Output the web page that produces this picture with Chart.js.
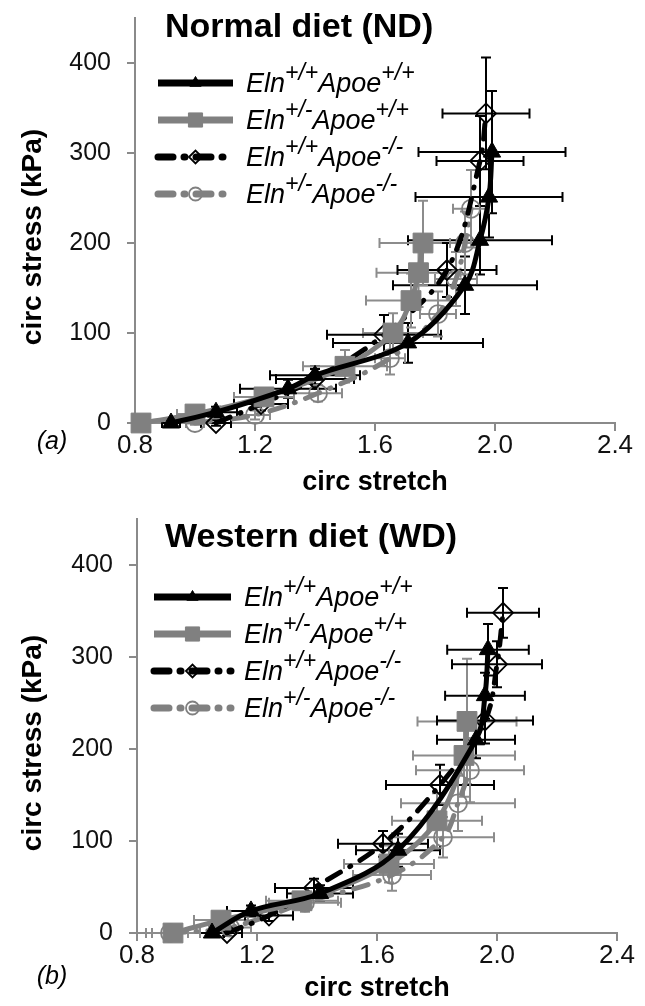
<!DOCTYPE html>
<html>
<head>
<meta charset="utf-8">
<script src="https://cdn.jsdelivr.net/npm/chart.js@4.4.1/dist/chart.umd.min.js"></script>
<style>
  html, body { margin: 0; padding: 0; background: #fff; }
  .panel { position: relative; width: 645px; }
  canvas { display: block; }
</style>
</head>
<body>
<div class="panel"><canvas id="ndChart" width="645" height="500"></canvas></div>
<div class="panel"><canvas id="wdChart" width="645" height="506"></canvas></div>
<script>
// Legend labels: [gene, superscript, gene, superscript]
const LEGEND_LABELS = [
    ['Eln', '+/+', 'Apoe', '+/+'],
    ['Eln', '+/-', 'Apoe', '+/+'],
    ['Eln', '+/+', 'Apoe', '-/-'],
    ['Eln', '+/-', 'Apoe', '-/-']
];
const X_TICKS = [0.8, 1.2, 1.6, 2.0, 2.4];
const Y_TICKS = [0, 100, 200, 300, 400];

// ---- Normal diet (ND) ----
const ND_WT_X    = [0.92, 1.07, 1.31, 1.40, 1.71, 1.90, 1.95, 1.98, 1.99];
const ND_WT_Y    = [0, 12, 38, 53, 89, 153, 203, 251, 301];
const ND_WT_XERR = [0.03, 0.07, 0.16, 0.15, 0.25, 0.24, 0.24, 0.245, 0.245];
const ND_WT_YERR = [3, 6, 10, 10, 22, 32, 38, 45, 68];

const ND_ELN_X    = [0.82, 1.00, 1.23, 1.50, 1.66, 1.72, 1.745, 1.76];
const ND_ELN_Y    = [0, 10, 29, 63, 100, 136, 167, 200];
const ND_ELN_XERR = [0.02, 0.06, 0.10, 0.14, 0.10, 0.15, 0.14, 0.145];
const ND_ELN_YERR = [2, 5, 9, 18, 22, 30, 38, 47];

const ND_APOE_X    = [1.07, 1.22, 1.40, 1.63, 1.84, 1.95, 1.97];
const ND_APOE_Y    = [0, 21, 49, 98, 170, 291, 344];
const ND_APOE_XERR = [0.05, 0.09, 0.13, 0.19, 0.165, 0.145, 0.145];
const ND_APOE_YERR = [3, 7, 11, 22, 30, 50, 62];

const ND_DKO_X    = [1.00, 1.20, 1.41, 1.65, 1.81, 1.87, 1.90, 1.92];
const ND_DKO_Y    = [0, 9, 33, 72, 121, 160, 200, 238];
const ND_DKO_XERR = [0.03, 0.05, 0.08, 0.05, 0.06, 0.07, 0.05, 0.06];
const ND_DKO_YERR = [2, 5, 9, 18, 25, 30, 35, 43];

// ---- Western diet (WD) ----
const WD_WT_X    = [1.05, 1.18, 1.41, 1.67, 1.93, 1.96, 1.97];
const WD_WT_Y    = [0, 24, 43, 90, 210, 258, 308];
const WD_WT_XERR = [0.04, 0.08, 0.11, 0.14, 0.13, 0.133, 0.136];
const WD_WT_YERR = [3, 6, 9, 18, 20, 25, 28];

const WD_ELN_X    = [0.92, 1.08, 1.35, 1.64, 1.80, 1.89, 1.90];
const WD_ELN_Y    = [0, 14, 35, 75, 122, 193, 230];
const WD_ELN_XERR = [0.09, 0.09, 0.12, 0.15, 0.15, 0.17, 0.165];
const WD_ELN_YERR = [2, 5, 9, 20, 30, 45, 68];

const WD_APOE_X    = [1.10, 1.24, 1.39, 1.62, 1.81, 1.96, 2.00, 2.02];
const WD_APOE_Y    = [0, 19, 49, 97, 161, 231, 292, 348];
const WD_APOE_XERR = [0.05, 0.08, 0.13, 0.15, 0.18, 0.16, 0.15, 0.12];
const WD_APOE_YERR = [3, 6, 10, 14, 22, 25, 25, 27];

const WD_DKO_X    = [0.91, 1.11, 1.36, 1.65, 1.82, 1.87, 1.91];
const WD_DKO_Y    = [0, 6, 33, 63, 104, 141, 177];
const WD_DKO_XERR = [0.06, 0.07, 0.12, 0.13, 0.17, 0.19, 0.18];
const WD_DKO_YERR = [2, 5, 10, 17, 22, 30, 35];

const FONT = '"Liberation Sans", Arial, sans-serif';
const GRAY = '#808080';
const AXIS = '#8a8a8a';

function points(xs, ys) {
    return xs.map((x, i) => ({ x: x, y: ys[i] }));
}

// look of the four groups (same in both panels)
function makeDatasets(wt, eln, apoe, dko) {
    return [
        {
            data: points(wt[0], wt[1]), xErr: wt[2], yErr: wt[3], errColor: '#000',
            borderColor: '#000', borderWidth: 5, pointStyle: 'triangle', pointRadius: 10,
            pointBackgroundColor: '#000', pointBorderColor: '#000', pointBorderWidth: 1
        },
        {
            data: points(eln[0], eln[1]), xErr: eln[2], yErr: eln[3], errColor: '#8c8c8c',
            borderColor: GRAY, borderWidth: 5, pointStyle: 'rect', pointRadius: 14,
            pointBackgroundColor: GRAY, pointBorderColor: GRAY, pointBorderWidth: 1
        },
        {
            data: points(apoe[0], apoe[1]), xErr: apoe[2], yErr: apoe[3], errColor: '#000',
            borderColor: '#000', borderWidth: 5, borderDash: [15, 11, 1, 11], borderCapStyle: 'round',
            pointStyle: 'rectRot', pointRadius: 10,
            pointBackgroundColor: 'rgba(255,255,255,0)', pointBorderColor: '#000', pointBorderWidth: 1.8
        },
        {
            data: points(dko[0], dko[1]), xErr: dko[2], yErr: dko[3], errColor: '#8c8c8c',
            borderColor: GRAY, borderWidth: 5, borderDash: [15, 11, 1, 11], borderCapStyle: 'round',
            pointStyle: 'circle', pointRadius: 9,
            pointBackgroundColor: 'rgba(255,255,255,0)', pointBorderColor: GRAY, pointBorderWidth: 1.8
        }
    ];
}

// x and y error bars with caps
const errorBars = {
    id: 'errorBars',
    beforeDatasetsDraw(chart) {
        const ctx = chart.ctx;
        const xs = chart.scales.x, ys = chart.scales.y;
        const cap = 5;
        chart.data.datasets.forEach(ds => {
            ctx.save();
            ctx.strokeStyle = ds.errColor;
            ctx.lineWidth = 2;
            ds.data.forEach((p, i) => {
                const px = xs.getPixelForValue(p.x);
                const py = ys.getPixelForValue(p.y);
                const xl = xs.getPixelForValue(p.x - ds.xErr[i]);
                const xr = xs.getPixelForValue(p.x + ds.xErr[i]);
                const yt = ys.getPixelForValue(p.y + ds.yErr[i]);
                const yb = ys.getPixelForValue(p.y - ds.yErr[i]);
                ctx.beginPath();
                ctx.moveTo(xl, py); ctx.lineTo(xr, py);
                ctx.moveTo(xl, py - cap); ctx.lineTo(xl, py + cap);
                ctx.moveTo(xr, py - cap); ctx.lineTo(xr, py + cap);
                ctx.moveTo(px, yt); ctx.lineTo(px, yb);
                ctx.moveTo(px - cap, yt); ctx.lineTo(px + cap, yt);
                ctx.moveTo(px - cap, yb); ctx.lineTo(px + cap, yb);
                ctx.stroke();
            });
            ctx.restore();
        });
    }
};

function drawMarker(ctx, style, x, y, r) {
    ctx.beginPath();
    if (style === 'triangle') {
        ctx.moveTo(x, y - r);
        ctx.lineTo(x + r * 0.866, y + r * 0.5);
        ctx.lineTo(x - r * 0.866, y + r * 0.5);
        ctx.closePath();
    } else if (style === 'rect') {
        const s = r * 0.707;
        ctx.rect(x - s, y - s, 2 * s, 2 * s);
    } else if (style === 'rectRot') {
        ctx.moveTo(x - r, y); ctx.lineTo(x, y - r); ctx.lineTo(x + r, y); ctx.lineTo(x, y + r);
        ctx.closePath();
    } else {
        ctx.arc(x, y, r, 0, Math.PI * 2);
    }
    ctx.fill();
    ctx.stroke();
}

// panel title, tag, y title and the legend with superscripts
const panelText = {
    id: 'panelText',
    afterDraw(chart, args, opts) {
        const ctx = chart.ctx;
        ctx.save();
        ctx.fillStyle = '#000';
        ctx.textAlign = 'left';
        ctx.textBaseline = 'alphabetic';
        ctx.font = 'bold 34px ' + FONT;
        ctx.fillText(opts.title, opts.titleX, opts.titleY);

        ctx.font = 'italic 25px ' + FONT;
        ctx.textAlign = 'center';
        ctx.textBaseline = 'middle';
        ctx.fillText(opts.tag, opts.tagX, opts.tagY);

        ctx.save();
        ctx.translate(opts.yTitleX, opts.yTitleY);
        ctx.rotate(-Math.PI / 2);
        ctx.font = 'bold 28px ' + FONT;
        ctx.fillText('circ stress (kPa)', 0, 0);
        ctx.restore();

        chart.data.datasets.forEach((ds, i) => {
            const base = opts.rowY[i];
            const ly = base - 9;
            ctx.save();
            ctx.strokeStyle = ds.borderColor;
            ctx.lineWidth = 7;
            ctx.lineCap = ds.borderDash ? 'round' : 'butt';
            ctx.setLineDash(ds.borderDash || []);
            ctx.beginPath();
            ctx.moveTo(opts.lineX0, ly);
            ctx.lineTo(opts.lineX1, ly);
            ctx.stroke();
            ctx.setLineDash([]);
            ctx.fillStyle = ds.pointBackgroundColor;
            ctx.strokeStyle = ds.pointBorderColor;
            ctx.lineWidth = ds.pointBorderWidth;
            drawMarker(ctx, ds.pointStyle, (opts.lineX0 + opts.lineX1) / 2, ly, ds.pointStyle === 'rect' ? 10 : 6.5);
            ctx.restore();

            let x = opts.textX;
            ctx.textAlign = 'left';
            ctx.textBaseline = 'alphabetic';
            LEGEND_LABELS[i].forEach((part, k) => {
                const sup = k % 2 === 1;
                ctx.font = 'italic ' + (sup ? 23 : 27) + 'px ' + FONT;
                ctx.fillText(part, x, sup ? base - 12 : base);
                x += ctx.measureText(part).width;
            });
        });
        ctx.restore();
    }
};

function buildChart(canvasId, datasets, panel, yAxisWidth, xAxisHeight, pad) {
    const ctx = document.getElementById(canvasId).getContext('2d');
    return new Chart(ctx, {
        type: 'line',
        data: { datasets: datasets },
        plugins: [errorBars, panelText],
        options: {
            responsive: false,
            animation: false,
            events: [],
            layout: { padding: pad },
            datasets: { line: { tension: 0.35, fill: false, clip: false } },
            plugins: {
                legend: { display: false },
                tooltip: { enabled: false },
                panelText: panel
            },
            scales: {
                x: {
                    type: 'linear',
                    min: X_TICKS[0],
                    max: X_TICKS[X_TICKS.length - 1],
                    afterBuildTicks: s => { s.ticks = X_TICKS.map(v => ({ value: v })); },
                    afterFit: s => {
                        s.height = xAxisHeight;
                        s.paddingLeft = 0; s.paddingRight = 0;
                    },
                    grid: { drawOnChartArea: false, drawTicks: true, tickLength: 8, color: AXIS, lineWidth: 2 },
                    border: { display: true, color: AXIS, width: 2 },
                    ticks: {
                        color: '#111',
                        padding: -1,
                        maxRotation: 0,
                        font: { family: FONT, size: 26 },
                        callback: v => Number(v).toFixed(1)
                    },
                    title: {
                        display: true,
                        text: 'circ stretch',
                        color: '#000',
                        font: { family: FONT, size: 27, weight: 'bold' },
                        padding: { top: 0, bottom: 1 }
                    }
                },
                y: {
                    type: 'linear',
                    min: 0,
                    max: 450,
                    afterBuildTicks: s => { s.ticks = Y_TICKS.map(v => ({ value: v })); },
                    afterFit: s => {
                        s.width = yAxisWidth;
                        s.paddingTop = 0; s.paddingBottom = 0;
                    },
                    grid: { drawOnChartArea: false, drawTicks: true, tickLength: 8, color: AXIS, lineWidth: 2 },
                    border: { display: true, color: AXIS, width: 2 },
                    ticks: {
                        color: '#111',
                        padding: 16,
                        font: { family: FONT, size: 25 }
                    }
                }
            }
        }
    });
}

buildChart('ndChart',
    makeDatasets(
        [ND_WT_X, ND_WT_Y, ND_WT_XERR, ND_WT_YERR],
        [ND_ELN_X, ND_ELN_Y, ND_ELN_XERR, ND_ELN_YERR],
        [ND_APOE_X, ND_APOE_Y, ND_APOE_XERR, ND_APOE_YERR],
        [ND_DKO_X, ND_DKO_Y, ND_DKO_XERR, ND_DKO_YERR]),
    {
        title: 'Normal diet (ND)', titleX: 165, titleY: 37,
        tag: '(a)', tagX: 52, tagY: 442,
        yTitleX: 33, yTitleY: 237,
        rowY: [92, 129, 166, 203], lineX0: 158, lineX1: 233, textX: 246
    },
    135, 77, { top: 18, right: 30, bottom: 0, left: 0 });

buildChart('wdChart',
    makeDatasets(
        [WD_WT_X, WD_WT_Y, WD_WT_XERR, WD_WT_YERR],
        [WD_ELN_X, WD_ELN_Y, WD_ELN_XERR, WD_ELN_YERR],
        [WD_APOE_X, WD_APOE_Y, WD_APOE_XERR, WD_APOE_YERR],
        [WD_DKO_X, WD_DKO_Y, WD_DKO_XERR, WD_DKO_YERR]),
    {
        title: 'Western diet (WD)', titleX: 165, titleY: 47,
        tag: '(b)', tagX: 52, tagY: 477,
        yTitleX: 33, yTitleY: 243,
        rowY: [106, 143, 180, 217], lineX0: 154, lineX1: 231, textX: 244
    },
    137, 73, { top: 19, right: 28, bottom: 0, left: 0 });
</script>
</body>
</html>
